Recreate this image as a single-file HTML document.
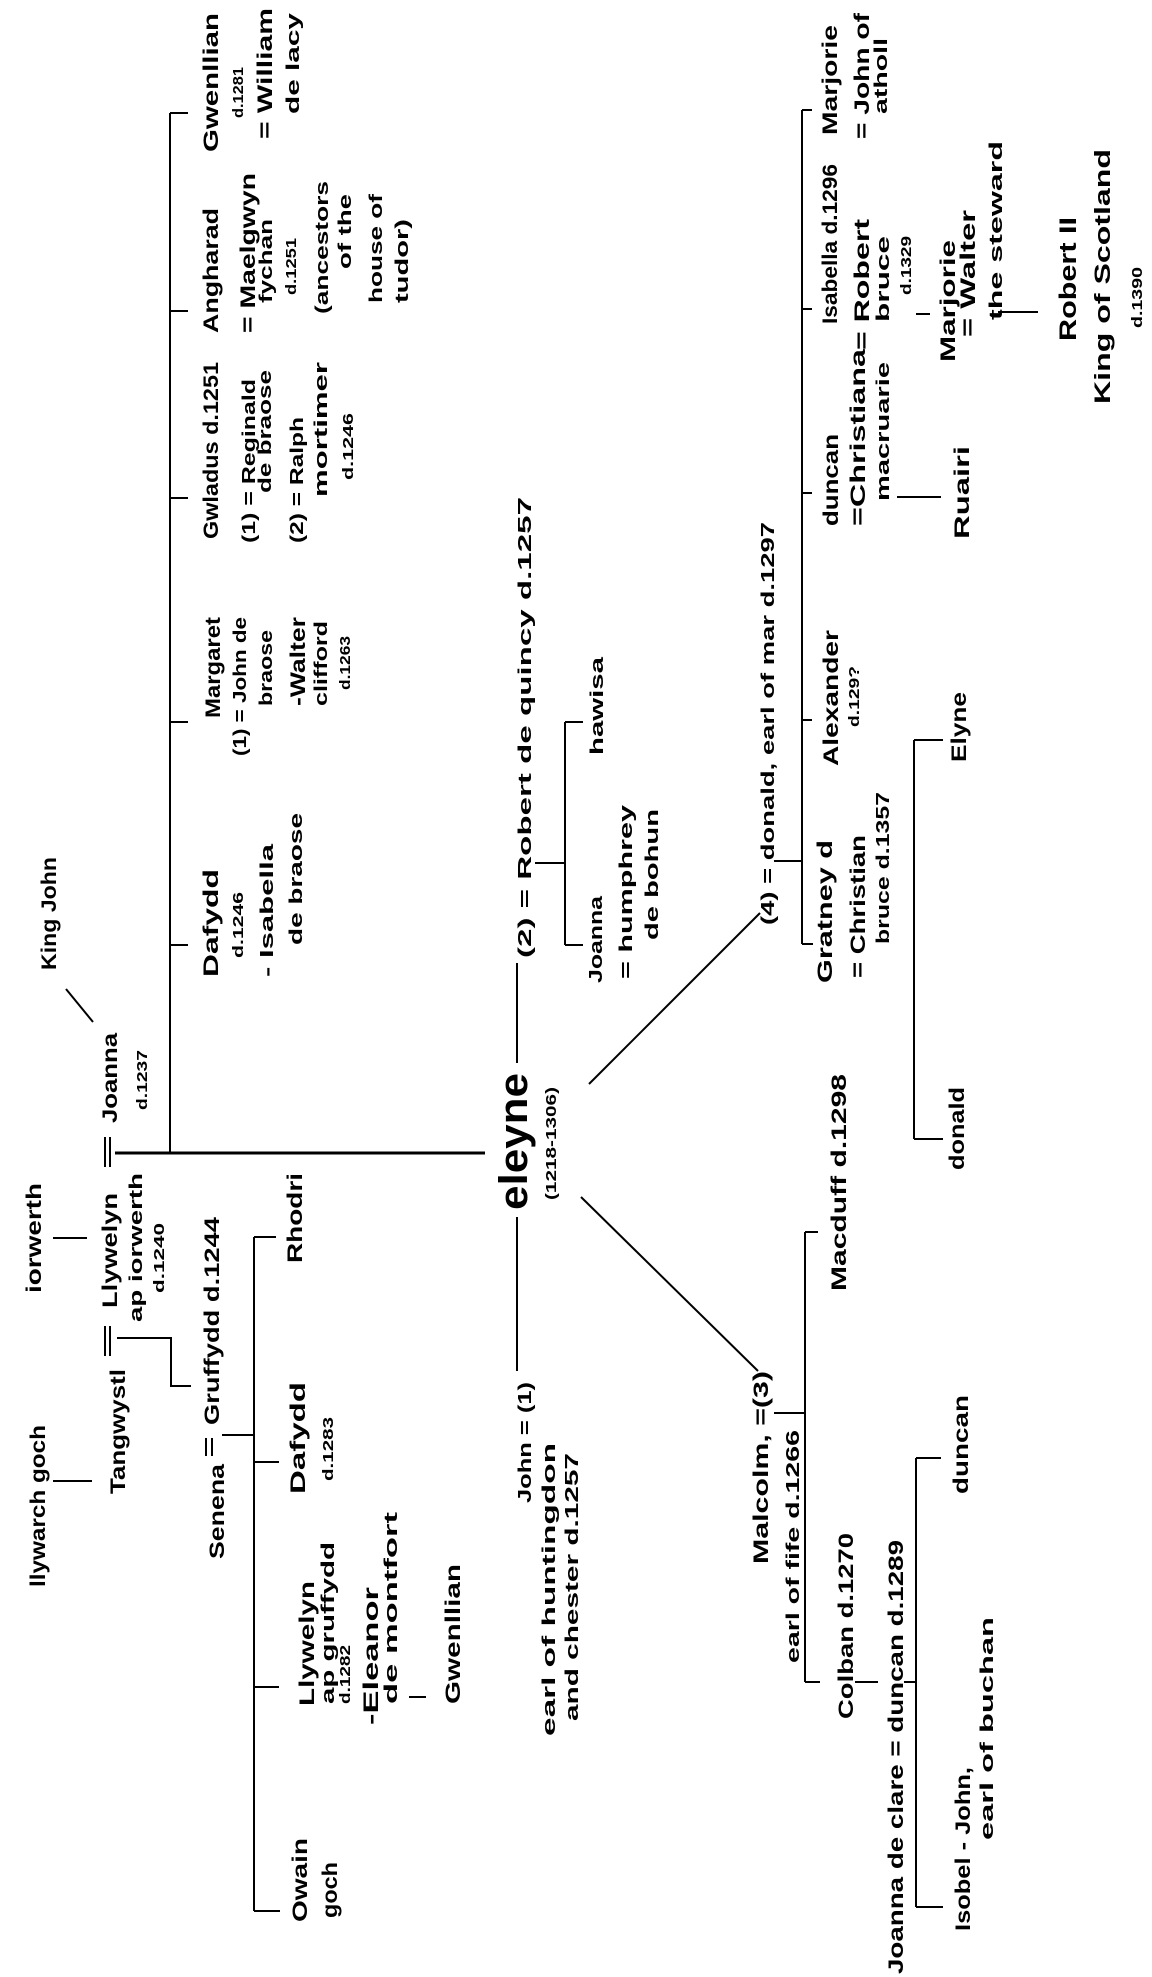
<!DOCTYPE html>
<html><head><meta charset="utf-8"><style>
html,body{margin:0;padding:0;background:#fff;}
svg{display:block;}
text{font-family:"Liberation Sans",sans-serif;fill:#000;font-weight:600;}
.n{font-size:21px;}
.m{font-size:18px;}
.s{font-size:15px;}
</style></head><body>
<svg width="1152" height="1977" viewBox="0 0 1152 1977" xmlns="http://www.w3.org/2000/svg">
<g stroke="#000" stroke-width="2" fill="none">
<line x1="53" y1="1481" x2="92" y2="1481"/>
<line x1="53" y1="1238" x2="87" y2="1238"/>
<line x1="105" y1="1326" x2="105" y2="1356"/><line x1="110" y1="1326" x2="110" y2="1356"/>
<line x1="105" y1="1137" x2="105" y2="1167"/><line x1="110" y1="1137" x2="110" y2="1167"/>
<line x1="115" y1="1153" x2="485" y2="1153" stroke-width="3"/>
<polyline points="117,1338 171,1338 171,1386 191,1386"/>
<line x1="206" y1="1438" x2="206" y2="1456"/><line x1="212" y1="1438" x2="212" y2="1456"/>
<line x1="222" y1="1435" x2="254" y2="1435"/>
<line x1="254" y1="1237" x2="254" y2="1911"/>
<line x1="254" y1="1237" x2="276" y2="1237"/>
<line x1="254" y1="1462" x2="279" y2="1462"/>
<line x1="254" y1="1687" x2="279" y2="1687"/>
<line x1="254" y1="1911" x2="280" y2="1911"/>
<line x1="409" y1="1697" x2="426" y2="1697"/>
<line x1="170" y1="113" x2="170" y2="1153"/>
<line x1="170" y1="113" x2="188" y2="113"/>
<line x1="170" y1="311" x2="188" y2="311"/>
<line x1="170" y1="498" x2="188" y2="498"/>
<line x1="170" y1="722" x2="188" y2="722"/>
<line x1="170" y1="945" x2="188" y2="945"/>
<line x1="66" y1="989" x2="93" y2="1022"/>
<line x1="517" y1="963" x2="517" y2="1063"/>
<line x1="517" y1="1217" x2="517" y2="1371"/>
<line x1="535" y1="863" x2="565" y2="863"/>
<line x1="565" y1="722" x2="565" y2="945"/>
<line x1="565" y1="722" x2="583" y2="722"/>
<line x1="565" y1="945" x2="583" y2="945"/>
<line x1="589" y1="1084" x2="760" y2="913"/>
<line x1="581" y1="1197" x2="758" y2="1371"/>
<line x1="774" y1="1413" x2="805" y2="1413"/>
<line x1="805" y1="1232" x2="805" y2="1682"/>
<line x1="805" y1="1232" x2="818" y2="1232"/>
<line x1="805" y1="1682" x2="820" y2="1682"/>
<line x1="855" y1="1682" x2="878" y2="1682"/>
<line x1="904" y1="1682" x2="916" y2="1682"/>
<line x1="916" y1="1458" x2="916" y2="1907"/>
<line x1="916" y1="1458" x2="941" y2="1458"/>
<line x1="916" y1="1907" x2="943" y2="1907"/>
<line x1="774" y1="861" x2="802" y2="861"/>
<line x1="802" y1="110" x2="802" y2="944"/>
<line x1="802" y1="110" x2="812" y2="110"/>
<line x1="802" y1="309" x2="812" y2="309"/>
<line x1="802" y1="493" x2="812" y2="493"/>
<line x1="802" y1="720" x2="812" y2="720"/>
<line x1="802" y1="944" x2="813" y2="944"/>
<line x1="897" y1="497" x2="941" y2="497"/>
<line x1="916" y1="314" x2="930" y2="314"/>
<line x1="998" y1="312" x2="1038" y2="312"/>
<line x1="914" y1="740" x2="914" y2="1139"/>
<line x1="914" y1="740" x2="943" y2="740"/>
<line x1="914" y1="1139" x2="943" y2="1139"/>
</g>
<g>
<text class="n" transform="translate(45,1587) rotate(-90)" textLength="162" lengthAdjust="spacingAndGlyphs">llywarch goch</text>
<text class="n" transform="translate(125,1494) rotate(-90)" textLength="125" lengthAdjust="spacingAndGlyphs">Tangwystl</text>
<text class="n" transform="translate(41,1293) rotate(-90)" textLength="110" lengthAdjust="spacingAndGlyphs">iorwerth</text>
<text class="n" transform="translate(117,1308) rotate(-90)" textLength="115" lengthAdjust="spacingAndGlyphs">Llywelyn</text>
<text class="m" transform="translate(142,1322) rotate(-90)" textLength="149" lengthAdjust="spacingAndGlyphs">ap iorwerth</text>
<text class="s" transform="translate(164,1293) rotate(-90)" textLength="70" lengthAdjust="spacingAndGlyphs">d.1240</text>
<text class="n" transform="translate(117,1123) rotate(-90)" textLength="90" lengthAdjust="spacingAndGlyphs">Joanna</text>
<text class="s" transform="translate(147,1110) rotate(-90)" textLength="60" lengthAdjust="spacingAndGlyphs">d.1237</text>
<text class="n" transform="translate(56,970) rotate(-90)" textLength="113" lengthAdjust="spacingAndGlyphs">King John</text>
<text class="n" transform="translate(224,1559) rotate(-90)" textLength="95" lengthAdjust="spacingAndGlyphs">Senena</text>
<text class="n" transform="translate(219,1425) rotate(-90)" textLength="208" lengthAdjust="spacingAndGlyphs">Gruffydd d.1244</text>
<text class="n" transform="translate(302,1263) rotate(-90)" textLength="90" lengthAdjust="spacingAndGlyphs">Rhodri</text>
<text class="n" transform="translate(305,1494) rotate(-90)" textLength="112" lengthAdjust="spacingAndGlyphs">Dafydd</text>
<text class="s" transform="translate(333,1481) rotate(-90)" textLength="64" lengthAdjust="spacingAndGlyphs">d.1283</text>
<text class="n" transform="translate(314,1706) rotate(-90)" textLength="125" lengthAdjust="spacingAndGlyphs">Llywelyn</text>
<text class="m" transform="translate(334,1704) rotate(-90)" textLength="162" lengthAdjust="spacingAndGlyphs">ap gruffydd</text>
<text class="s" transform="translate(350,1704) rotate(-90)" textLength="59" lengthAdjust="spacingAndGlyphs">d.1282</text>
<text class="n" transform="translate(378,1725) rotate(-90)" textLength="138" lengthAdjust="spacingAndGlyphs">-Eleanor</text>
<text class="m" transform="translate(397,1704) rotate(-90)" textLength="192" lengthAdjust="spacingAndGlyphs">de montfort</text>
<text class="n" transform="translate(460,1704) rotate(-90)" textLength="140" lengthAdjust="spacingAndGlyphs">Gwenllian</text>
<text class="n" transform="translate(307,1922) rotate(-90)" textLength="84" lengthAdjust="spacingAndGlyphs">Owain</text>
<text class="n" transform="translate(337,1918) rotate(-90)" textLength="56" lengthAdjust="spacingAndGlyphs">goch</text>

<text class="n" transform="translate(218,152) rotate(-90)" textLength="139" lengthAdjust="spacingAndGlyphs">Gwenllian</text>
<text class="s" transform="translate(243,118) rotate(-90)" textLength="51" lengthAdjust="spacingAndGlyphs">d.1281</text>
<text class="n" transform="translate(272,139) rotate(-90)" textLength="131" lengthAdjust="spacingAndGlyphs">= William</text>
<text class="m" transform="translate(299,114) rotate(-90)" textLength="101" lengthAdjust="spacingAndGlyphs">de lacy</text>
<text class="n" transform="translate(218,333) rotate(-90)" textLength="125" lengthAdjust="spacingAndGlyphs">Angharad</text>
<text class="n" transform="translate(255,333) rotate(-90)" textLength="160" lengthAdjust="spacingAndGlyphs">= Maelgwyn</text>
<text class="m" transform="translate(272,303) rotate(-90)" textLength="84" lengthAdjust="spacingAndGlyphs">fychan</text>
<text class="s" transform="translate(296,295) rotate(-90)" textLength="57" lengthAdjust="spacingAndGlyphs">d.1251</text>
<text class="m" transform="translate(328,314) rotate(-90)" textLength="133" lengthAdjust="spacingAndGlyphs">(ancestors</text>
<text class="m" transform="translate(351,269) rotate(-90)" textLength="75" lengthAdjust="spacingAndGlyphs">of the</text>
<text class="m" transform="translate(382,303) rotate(-90)" textLength="109" lengthAdjust="spacingAndGlyphs">house of</text>
<text class="m" transform="translate(408,303) rotate(-90)" textLength="84" lengthAdjust="spacingAndGlyphs">tudor)</text>
<text class="n" transform="translate(218,539) rotate(-90)" textLength="177" lengthAdjust="spacingAndGlyphs">Gwladus d.1251</text>
<text class="m" transform="translate(255,543) rotate(-90)" textLength="164" lengthAdjust="spacingAndGlyphs">(1) = Reginald</text>
<text class="m" transform="translate(271,493) rotate(-90)" textLength="123" lengthAdjust="spacingAndGlyphs">de braose</text>
<text class="m" transform="translate(303,543) rotate(-90)" textLength="126" lengthAdjust="spacingAndGlyphs">(2) = Ralph</text>
<text class="m" transform="translate(327,497) rotate(-90)" textLength="135" lengthAdjust="spacingAndGlyphs">mortimer</text>
<text class="s" transform="translate(353,480) rotate(-90)" textLength="67" lengthAdjust="spacingAndGlyphs">d.1246</text>
<text class="n" transform="translate(220,718) rotate(-90)" textLength="101" lengthAdjust="spacingAndGlyphs">Margaret</text>
<text class="m" transform="translate(246,756) rotate(-90)" textLength="139" lengthAdjust="spacingAndGlyphs">(1) = John de</text>
<text class="m" transform="translate(272,706) rotate(-90)" textLength="76" lengthAdjust="spacingAndGlyphs">braose</text>
<text class="n" transform="translate(305,706) rotate(-90)" textLength="89" lengthAdjust="spacingAndGlyphs">-Walter</text>
<text class="m" transform="translate(327,706) rotate(-90)" textLength="85" lengthAdjust="spacingAndGlyphs">clifford</text>
<text class="s" transform="translate(350,690) rotate(-90)" textLength="54" lengthAdjust="spacingAndGlyphs">d.1263</text>
<text class="n" transform="translate(218,977) rotate(-90)" textLength="108" lengthAdjust="spacingAndGlyphs">Dafydd</text>
<text class="s" transform="translate(243,958) rotate(-90)" textLength="66" lengthAdjust="spacingAndGlyphs">d.1246</text>
<text class="m" transform="translate(273,977) rotate(-90)" textLength="133" lengthAdjust="spacingAndGlyphs">- Isabella</text>
<text class="m" transform="translate(302,945) rotate(-90)" textLength="132" lengthAdjust="spacingAndGlyphs">de braose</text>

<text transform="translate(527,1210) rotate(-90)" style="font-size:40px" textLength="137" lengthAdjust="spacingAndGlyphs">eleyne</text>
<text class="s" transform="translate(556,1200) rotate(-90)" textLength="113" lengthAdjust="spacingAndGlyphs">(1218-1306)</text>
<text class="m" transform="translate(531,1503) rotate(-90)" textLength="121" lengthAdjust="spacingAndGlyphs">John = (1)</text>
<text class="m" transform="translate(555,1736) rotate(-90)" textLength="293" lengthAdjust="spacingAndGlyphs">earl of huntingdon</text>
<text class="m" transform="translate(578,1721) rotate(-90)" textLength="268" lengthAdjust="spacingAndGlyphs">and chester d.1257</text>
<text class="m" transform="translate(531,958) rotate(-90)" textLength="461" lengthAdjust="spacingAndGlyphs">(2) = Robert de quincy d.1257</text>
<text class="m" transform="translate(602,983) rotate(-90)" textLength="87" lengthAdjust="spacingAndGlyphs">Joanna</text>
<text class="m" transform="translate(632,979) rotate(-90)" textLength="174" lengthAdjust="spacingAndGlyphs">= humphrey</text>
<text class="m" transform="translate(658,940) rotate(-90)" textLength="131" lengthAdjust="spacingAndGlyphs">de bohun</text>
<text class="m" transform="translate(603,755) rotate(-90)" textLength="98" lengthAdjust="spacingAndGlyphs">hawisa</text>

<text class="n" transform="translate(768,1564) rotate(-90)" textLength="193" lengthAdjust="spacingAndGlyphs">Malcolm, =(3)</text>
<text class="m" transform="translate(799,1663) rotate(-90)" textLength="233" lengthAdjust="spacingAndGlyphs">earl of fife d.1266</text>
<text class="n" transform="translate(846,1291) rotate(-90)" textLength="217" lengthAdjust="spacingAndGlyphs">Macduff d.1298</text>
<text class="n" transform="translate(853,1719) rotate(-90)" textLength="186" lengthAdjust="spacingAndGlyphs">Colban d.1270</text>
<text class="n" transform="translate(903,1974) rotate(-90)" textLength="434" lengthAdjust="spacingAndGlyphs">Joanna de clare = duncan d.1289</text>
<text class="n" transform="translate(968,1494) rotate(-90)" textLength="99" lengthAdjust="spacingAndGlyphs">duncan</text>
<text class="n" transform="translate(970,1931) rotate(-90)" textLength="164" lengthAdjust="spacingAndGlyphs">Isobel - John,</text>
<text class="m" transform="translate(993,1840) rotate(-90)" textLength="223" lengthAdjust="spacingAndGlyphs">earl of buchan</text>
<text class="m" transform="translate(774,925) rotate(-90)" textLength="403" lengthAdjust="spacingAndGlyphs">(4) = donald, earl of mar d.1297</text>
<text class="n" transform="translate(832,983) rotate(-90)" textLength="143" lengthAdjust="spacingAndGlyphs">Gratney d</text>
<text class="n" transform="translate(865,978) rotate(-90)" textLength="143" lengthAdjust="spacingAndGlyphs">= Christian</text>
<text class="m" transform="translate(889,944) rotate(-90)" textLength="152" lengthAdjust="spacingAndGlyphs">bruce d.1357</text>
<text class="n" transform="translate(838,766) rotate(-90)" textLength="136" lengthAdjust="spacingAndGlyphs">Alexander</text>
<text class="s" transform="translate(859,727) rotate(-90)" textLength="61" lengthAdjust="spacingAndGlyphs">d.129?</text>
<text class="n" transform="translate(966,762) rotate(-90)" textLength="70" lengthAdjust="spacingAndGlyphs">Elyne</text>
<text class="n" transform="translate(964,1170) rotate(-90)" textLength="83" lengthAdjust="spacingAndGlyphs">donald</text>
<text class="n" transform="translate(838,526) rotate(-90)" textLength="92" lengthAdjust="spacingAndGlyphs">duncan</text>
<text class="n" transform="translate(865,526) rotate(-90)" textLength="177" lengthAdjust="spacingAndGlyphs">=Christiana</text>
<text class="m" transform="translate(889,501) rotate(-90)" textLength="139" lengthAdjust="spacingAndGlyphs">macruarie</text>
<text class="n" transform="translate(969,539) rotate(-90)" textLength="93" lengthAdjust="spacingAndGlyphs">Ruairi</text>
<text class="n" transform="translate(837,324) rotate(-90)" textLength="160" lengthAdjust="spacingAndGlyphs">Isabella d.1296</text>
<text class="n" transform="translate(869,350) rotate(-90)" textLength="131" lengthAdjust="spacingAndGlyphs">= Robert</text>
<text class="m" transform="translate(889,322) rotate(-90)" textLength="86" lengthAdjust="spacingAndGlyphs">bruce</text>
<text class="s" transform="translate(911,295) rotate(-90)" textLength="59" lengthAdjust="spacingAndGlyphs">d.1329</text>
<text class="n" transform="translate(955,362) rotate(-90)" textLength="122" lengthAdjust="spacingAndGlyphs">Marjorie</text>
<text class="n" transform="translate(975,337) rotate(-90)" textLength="127" lengthAdjust="spacingAndGlyphs">= Walter</text>
<text class="m" transform="translate(1002,320) rotate(-90)" textLength="179" lengthAdjust="spacingAndGlyphs">the steward</text>
<text transform="translate(1076,341) rotate(-90)" style="font-size:24px" textLength="124" lengthAdjust="spacingAndGlyphs">Robert II</text>
<text transform="translate(1110,404) rotate(-90)" style="font-size:22px" textLength="255" lengthAdjust="spacingAndGlyphs">King of Scotland</text>
<text class="s" transform="translate(1142,328) rotate(-90)" textLength="61" lengthAdjust="spacingAndGlyphs">d.1390</text>
<text class="n" transform="translate(837,135) rotate(-90)" textLength="110" lengthAdjust="spacingAndGlyphs">Marjorie</text>
<text class="n" transform="translate(869,139) rotate(-90)" textLength="126" lengthAdjust="spacingAndGlyphs">= John of</text>
<text class="m" transform="translate(887,114) rotate(-90)" textLength="76" lengthAdjust="spacingAndGlyphs">atholl</text>
</g>
</svg>
</body></html>
